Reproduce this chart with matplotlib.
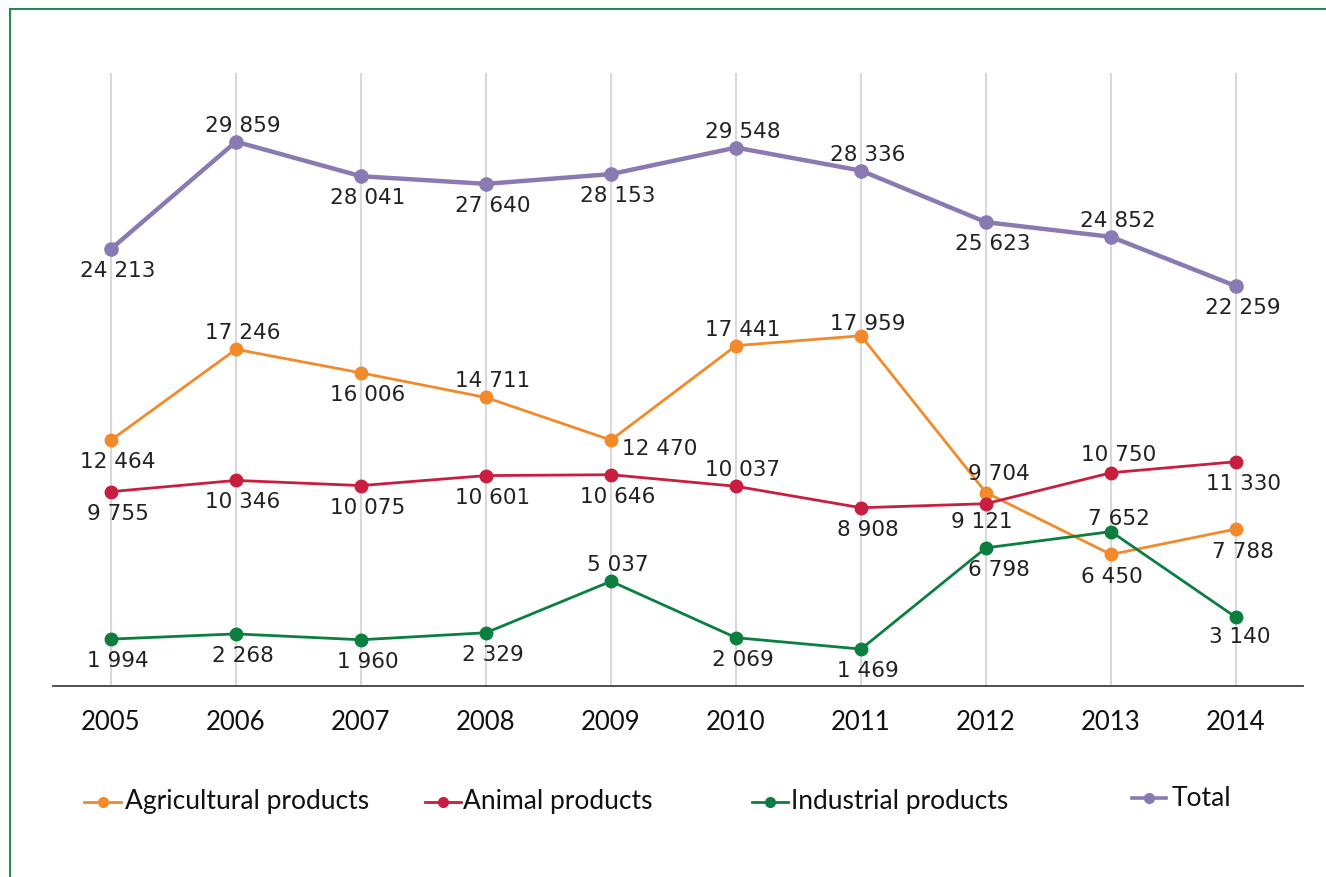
import matplotlib
matplotlib.use("Agg")
import matplotlib.pyplot as plt
from matplotlib.lines import Line2D

years = ["2005", "2006", "2007", "2008", "2009", "2010", "2011", "2012", "2013", "2014"]
agricultural = [12464, 17246, 16006, 14711, 12470, 17441, 17959, 9704, 6450, 7788]
animal = [9755, 10346, 10075, 10601, 10646, 10037, 8908, 9121, 10750, 11330]
industrial = [1994, 2268, 1960, 2329, 5037, 2069, 1469, 6798, 7652, 3140]
total = [24213, 29859, 28041, 27640, 28153, 29548, 28336, 25623, 24852, 22259]

C_AGR = "#f28a2c"
C_ANI = "#c81e3f"
C_IND = "#0b7f40"
C_TOT = "#8a7ab4"

# label placement per point: (dx, dy) in pixels, screen-down positive
A, B = (7, -16), (7, 22)
place_agr = [B, A, B, A, (49, 9), A, (7, -12), (13, -19), (1, 23), (7, 23)]
place_ani = [B, B, B, B, B, A, B, (-4, 18), (8, -18), B]
place_ind = [B, B, B, B, A, B, B, (13, 22), (8, -13), (4, 20)]
place_tot = [B, A, B, B, B, A, A, B, A, B]

PX = 0.72  # points per pixel at dpi 100

fig = plt.figure(figsize=(13.26, 8.77), dpi=100)
ax = fig.add_axes([53 / 1326, 1 - 686 / 877, 1250 / 1326, 613 / 877])
ax2 = ax.twinx()

x = list(range(len(years)))
ax.set_xlim(-0.464, 9.536)
ax.set_ylim(-474, 31789)
ax2.set_ylim(1211, 33474)

for a in (ax, ax2):
    for s in a.spines.values():
        s.set_visible(False)
    a.set_yticks([])
ax.spines["bottom"].set_visible(True)
ax.spines["bottom"].set_color("#404040")
ax.spines["bottom"].set_linewidth(1.3)

ax.set_xticks(x)
ax.set_xticklabels(years, fontsize=18.5, fontfamily="Lato", color="#111111")
ax.tick_params(axis="x", length=0, pad=17)
for xi in x:
    ax.axvline(xi, color="#d9d9d9", lw=1.5, zorder=0)

def draw(axis, vals, color, places, lw, ms):
    axis.plot(x, vals, color=color, lw=lw, marker="o", ms=ms, zorder=3,
              solid_capstyle="round")
    for xi, v, (dx, dy) in zip(x, vals, places):
        axis.annotate(f"{v:,}".replace(",", " "), (xi, v),
                      xytext=(dx * PX, -dy * PX), textcoords="offset points",
                      ha="center", va="center", fontsize=15.5,
                      fontfamily="DejaVu Sans", color="#222222", zorder=4)

draw(ax, agricultural, C_AGR, place_agr, 2.0, 9)
draw(ax, animal, C_ANI, place_ani, 2.0, 9)
draw(ax, industrial, C_IND, place_ind, 2.0, 9)
draw(ax2, total, C_TOT, place_tot, 3.2, 9.5)

# legend entries
def fx(p):
    return p / 1326

def fy(p):
    return 1 - p / 877

legend = [
    ("Agricultural products", C_AGR, 84, 121, 125, 802, 2.0),
    ("Animal products", C_ANI, 425, 461, 463, 802, 2.0),
    ("Industrial products", C_IND, 752, 788, 791, 802, 2.0),
    ("Total", C_TOT, 1132, 1166, 1172, 798, 2.6),
]
for label, col, x0, x1, tx, yy, lw in legend:
    fig.add_artist(Line2D([fx(x0), fx(x1)], [fy(yy), fy(yy)], color=col, lw=lw))
    fig.add_artist(Line2D([fx((x0 + x1) / 2)], [fy(yy)], color=col, marker="o",
                          ms=7, lw=0))
    fig.text(fx(tx), fy(yy), label, ha="left", va="center", fontsize=19,
             fontfamily="Lato", color="#111111")

# green frame on top and left
frame_col = "#1e8a4e"
fig.add_artist(Line2D([fx(10), 1.0], [fy(9), fy(9)], color=frame_col, lw=1.4))
fig.add_artist(Line2D([fx(10), fx(10)], [fy(9), 0.0], color=frame_col, lw=1.4))

fig.savefig("out.png", dpi=100)
